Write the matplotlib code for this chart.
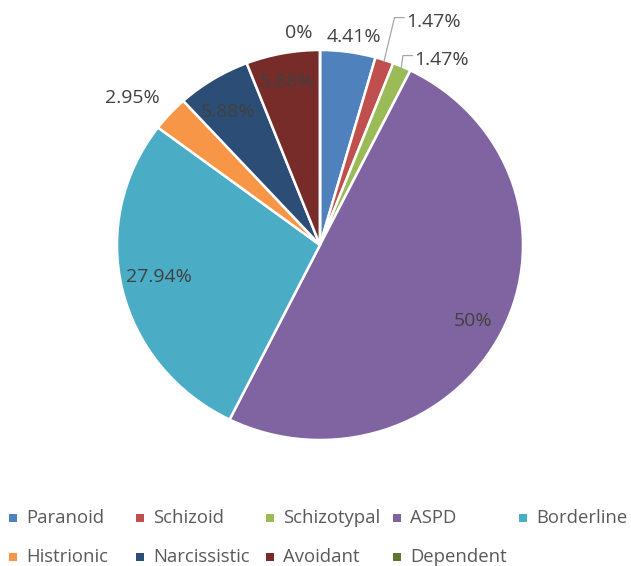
import numpy as np
import matplotlib
matplotlib.use("Agg")
import matplotlib.pyplot as plt
from matplotlib.patches import Rectangle

# data
categorias = ["Paranoid", "Schizoid", "Schizotypal", "ASPD", "Borderline",
              "Histrionic", "Narcissistic", "Avoidant", "Dependent"]
percentuais = [4.41, 1.47, 1.47, 50, 27.94, 2.95, 5.88, 5.88, 0]
rotulos = ["4.41%", "1.47%", "1.47%", "50%", "27.94%", "2.95%", "5.88%", "5.88%", "0%"]
cores = ["#4F81BD", "#C0504D", "#9BBB59", "#8064A2", "#4BACC6",
         "#F79646", "#2C4D75", "#772C2A", "#5F7530"]

# label placement: (radius, angle shift in degrees, leader line?)
posicao_rotulo = [
    (1.08, -1.0, False),
    (1.27, -7.5, True),
    (1.12, -8.5, True),
    (0.85, -0.7, False),
    (0.81, -1.6, False),
    (1.19, 3.2, False),
    (0.82, 1.8, False),
    (0.85, 0.4, False),
    (1.09, 5.5, False),
]

plt.rcParams["font.family"] = ["Open Sans", "DejaVu Sans"]
COR_TEXTO = "#404040"

W, H, DPI = 631, 566, 100
fig = plt.figure(figsize=(W / DPI, H / DPI), dpi=DPI)
ax = fig.add_axes([0, 0, 1, 1])

# pixel centre of the pie and its (slightly stretched) radii
cx, cy, rx, ry = 320, 245, 203, 195

wedges, _ = ax.pie(percentuais, colors=cores, startangle=90, counterclock=False,
                   wedgeprops=dict(edgecolor="white", linewidth=1.8))
ax.set_aspect("auto")
ax.set_xlim(-cx / rx, (W - cx) / rx)
ax.set_ylim(-(H - cy) / ry, cy / ry)
ax.axis("off")

total = sum(percentuais)
acumulado = 0
for i, valor in enumerate(percentuais):
    meio = 90 - 360 * (acumulado + valor / 2) / total
    acumulado += valor
    r, desloc, linha = posicao_rotulo[i]
    ang = np.deg2rad(meio + desloc)
    x, y = r * np.cos(ang), r * np.sin(ang)
    if linha:
        a0 = np.deg2rad(meio)
        x0, y0 = 0.99 * np.cos(a0), 0.99 * np.sin(a0)
        cot_x = x - 0.19
        ax.plot([x0, cot_x, cot_x + 0.05], [y0, y + 0.025, y + 0.025],
                color="#a6a6a6", lw=0.9, solid_capstyle="butt")
        ax.text(cot_x + 0.055, y, rotulos[i], ha="left", va="center",
                fontsize=14, color=COR_TEXTO)
    else:
        ax.text(x, y, rotulos[i], ha="center", va="center",
                fontsize=14, color=COR_TEXTO)

# legend drawn on a fixed grid, like the original
col_x = [13, 140, 270, 397, 523]
lin_y = [518, 557]
for i, nome in enumerate(categorias):
    lin, col = divmod(i, 5)
    px, py = col_x[col], lin_y[lin]
    fig.add_artist(Rectangle(((px - 4) / W, 1 - (py + 4) / H), 8 / W, 8 / H,
                             transform=fig.transFigure, color=cores[i], lw=0))
    fig.text((px + 13) / W, 1 - py / H, nome, ha="left", va="center",
             fontsize=13.3, color="#595959")

fig.savefig("out.png", dpi=DPI)
